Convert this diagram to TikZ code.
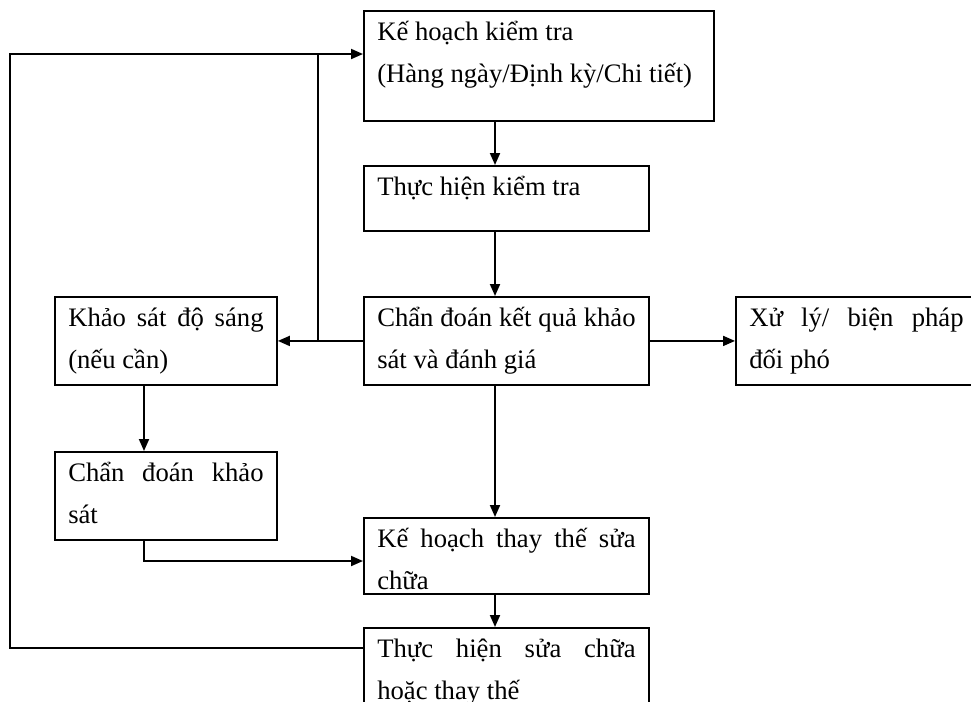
\documentclass[tikz,border=0pt]{standalone}
\usepackage{fontspec}
\setmainfont{Liberation Serif}
\usetikzlibrary{arrows.meta,calc}

% top-aligned, justified box text: width, height, text
\newcommand{\boxtext}[3]{\parbox[t][#2][t]{#1}{\rule{0pt}{22.5pt}#3}}

\begin{document}
\begin{tikzpicture}[x=0.75pt,y=-0.75pt]
        \tikzstyle{every node}=[draw, line width=1.4pt, anchor=north west, inner xsep=10pt, inner ysep=0pt, font=\fontsize{20}{31.5}\selectfont];
        \tikzstyle{flow}=[line width=1.4pt, -{Triangle[length=9pt,width=7.5pt]}];
        \clip (0,0) rectangle (971,701);
        \fill[white] (0,0) rectangle (971,701);
        % main column
        \node (plan) at (363,10) {\boxtext{242.5pt}{82.5pt}{Kế hoạch kiểm tra\\(Hàng ngày/Định kỳ/Chi tiết)}};
        \node (exec) at (363,165) {\boxtext{193.75pt}{48.75pt}{Thực hiện kiểm tra}};
        \node (diag) at (363,296) {\boxtext{193.75pt}{66pt}{Chẩn đoán kết quả khảo\linebreak sát và đánh giá}};
        \node (repplan) at (363,517) {\boxtext{193.75pt}{57pt}{Kế hoạch thay thế sửa\linebreak chữa}};
        \node (repair) at (363,627) {\boxtext{193.75pt}{67.5pt}{Thực hiện sửa chữa\linebreak hoặc thay thế}};
        % side boxes
        \node (survey) at (54,296) {\boxtext{146.5pt}{66pt}{Khảo sát độ sáng\linebreak (nếu cần)}};
        \node (check) at (54,451) {\boxtext{146.5pt}{66pt}{Chẩn đoán khảo\linebreak sát}};
        \node (act) at (735,296) {\boxtext{160.75pt}{66pt}{Xử lý/ biện pháp\linebreak đối phó}};
        % helper points for the connectors
        \coordinate (spine) at (495,0);
        \coordinate (branch) at (318,0);
        \coordinate (drop) at (144,0);
        \coordinate (rim) at (10,0);
        \coordinate (entry) at ($(plan.north west)+(0,44)$);
        \coordinate (exit) at ($(repair.north west)+(0,21)$);
        \coordinate (merge) at ($(repplan.north west)+(0,44)$);
        \draw[flow] (plan.south -| spine) -- (exec.north -| spine);
        \draw[flow] (exec.south -| spine) -- (diag.north -| spine);
        \draw[flow] (diag.south -| spine) -- (repplan.north -| spine);
        \draw[flow] (repplan.south -| spine) -- (repair.north -| spine);
        \draw[flow] (diag.west) -- (survey.east);
        \draw[flow] (diag.east) -- (act.west);
        \draw[line width=1.4pt] (branch |- diag.west) -- (branch |- entry);
        \draw[flow] (survey.south -| drop) -- (check.north -| drop);
        \draw[flow] (check.south -| drop) |- (merge);
        \draw[flow] (exit) -| (rim |- entry) -- (entry);
    \end{tikzpicture}
\end{document}
